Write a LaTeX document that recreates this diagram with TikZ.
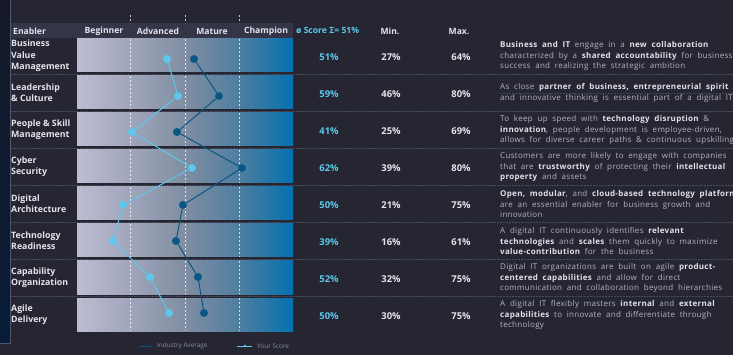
\documentclass[tikz,border=0pt]{standalone}
\usepackage{fontspec}
\setmainfont{Open Sans}
\newfontfamily\descfont[LetterSpace=3.8,WordSpace=2]{Open Sans}
\definecolor{bg}{RGB}{37,38,50}
\definecolor{hdr}{RGB}{52,54,72}
\definecolor{stripA}{RGB}{22,26,40}
\definecolor{stripB}{RGB}{8,28,55}
\definecolor{stripline}{RGB}{80,86,112}
\definecolor{bandL}{RGB}{190,188,210}
\definecolor{bandM}{RGB}{128,142,162}
\definecolor{bandN}{RGB}{78,126,160}
\definecolor{bandR}{RGB}{4,112,176}
\definecolor{cyanpt}{RGB}{92,200,236}
\definecolor{darkpt}{RGB}{10,86,132}
\definecolor{lbl}{RGB}{228,228,236}
\definecolor{desc}{RGB}{180,180,192}
\definecolor{descb}{RGB}{226,226,234}
\definecolor{sep}{RGB}{74,77,96}
\definecolor{leg}{RGB}{140,140,156}
\pgfdeclarehorizontalshading{bandshade}{100bp}{color(0bp)=(bandL); color(25bp)=(bandL); color(50bp)=(bandM); color(62.5bp)=(bandN); color(75bp)=(bandR); color(100bp)=(bandR)}
\tikzset{
  hdrtext/.style={text=lbl, font=\bfseries\fontsize{8.6}{9}\selectfont, inner sep=0pt},
  rowlabel/.style={text=lbl, font=\bfseries\fontsize{8.8}{11.4}\selectfont, align=left, anchor=west, inner sep=0pt},
  scoreval/.style={text=cyanpt, font=\bfseries\fontsize{9.4}{10}\selectfont, inner sep=0pt},
  minmax/.style={text=lbl, font=\bfseries\fontsize{9.4}{10}\selectfont, inner sep=0pt},
  desctext/.style={text=desc, font=\descfont\fontsize{8}{10.3}\selectfont, align=left, anchor=west, inner sep=0pt},
  ysdot/.style={circle, fill=cyanpt, inner sep=0pt, minimum size=8pt},
  iadot/.style={circle, fill=darkpt, inner sep=0pt, minimum size=8pt},
  ysline/.style={draw=cyanpt, line width=1pt},
  ialine/.style={draw=darkpt, line width=1pt},
  sepline/.style={draw=sep, line width=0.8pt, dash pattern=on 1.5pt off 1.5pt},
  gridline/.style={draw=white, opacity=0.75, line width=0.5pt, dash pattern=on 2pt off 2pt},
  legtext/.style={text=leg, font=\fontsize{6.4}{7}\selectfont, anchor=west, inner sep=0pt}
}
\newcommand{\hb}[1]{{\bfseries\color{descb}#1}}
\begin{document}
\begin{tikzpicture}[x=1pt,y=-1pt]
\useasboundingbox (0,0) rectangle (733,355);
\fill[bg] (0,0) rectangle (733,355);
% left strip
\shade[top color=stripA, bottom color=stripB] (0,0) rectangle (10,343);
\draw[stripline, line width=1pt] (10,0) -- (10,343) -- (0,343);
% header
\fill[hdr] (11,23) rectangle (293,38);
\foreach \x in {130,185,239} {\draw[gridline] (\x,15) -- (\x,23);}
\node[hdrtext, anchor=west] (hEn) at (13,31) {Enabler};
\node[hdrtext] (hBe) at (104,31) {Beginner};
\node[hdrtext] (hAd) at (158,31) {Advanced};
\node[hdrtext] (hMa) at (212,31) {Mature};
\node[hdrtext] (hCh) at (266,31) {Champion};
\node[hdrtext, text=cyanpt, anchor=west] (hSc) at (296,31) {ø Score Σ= 51\%};
\node[hdrtext] (hMin) at (390,31) {Min.};
\node[hdrtext] (hMax) at (459,31) {Max.};
% bands
\foreach \i in {0,...,7} {
  \pgfmathsetmacro{\t}{39+37*\i}
  \shade[shading=bandshade] (77,\t) rectangle (293,\t+33);
  \foreach \x in {130,185,239} {\draw[gridline] (\x,\t) -- (\x,\t+33);}
}
% separators
\foreach \i in {0,...,6} {
  \pgfmathsetmacro{\s}{74+37*\i}
  \draw[sepline] (11,\s) -- (733,\s);
}
\draw[sepline, opacity=0.8] (500,93) -- (733,93);
% row labels
\node[rowlabel] (l1) at (11,56) {Business\\Value\\Management};
\node[rowlabel] (l2) at (11,93) {Leadership\\\&~Culture};
\node[rowlabel] (l3) at (11,130) {People \& Skill\\Management};
\node[rowlabel] (l4) at (11,167) {Cyber\\Security};
\node[rowlabel] (l5) at (11,204) {Digital\\Architecture};
\node[rowlabel] (l6) at (11,241) {Technology\\Readiness};
\node[rowlabel] (l7) at (11,278) {Capability\\Organization};
\node[rowlabel] (l8) at (11,315) {Agile\\Delivery};
% values
\foreach \i/\sc/\mn/\mx in {0/51/27/64,1/59/46/80,2/41/25/69,3/62/39/80,4/50/21/75,5/39/16/61,6/52/32/75,7/50/30/75} {
  \pgfmathsetmacro{\c}{57+37*\i}
  \node[scoreval] (sc\i) at (329,\c) {\sc\%};
  \node[minmax] (mn\i) at (391,\c) {\mn\%};
  \node[minmax] (mx\i) at (461,\c) {\mx\%};
}
% descriptions
\node[desctext] (d1) at (500,56) {\hb{Business and IT} engage in a \hb{new collaboration}\\characterized by a \hb{shared accountability} for business\\success and realizing the strategic ambition};
\node[desctext] (d2) at (500,93) {As close \hb{partner of business, entrepreneurial spirit}\\and innovative thinking is essential part of a digital IT};
\node[desctext] (d3) at (500,130) {To keep up speed with \hb{technology disruption} \&\\\hb{innovation}, people development is employee-driven,\\allows for diverse career paths \& continuous upskilling};
\node[desctext] (d4) at (500,167) {Customers are more likely to engage with companies\\that are \hb{trustworthy} of protecting their \hb{intellectual}\\\hb{property} and assets};
\node[desctext] (d5) at (500,204) {\hb{Open, modular}, and \hb{cloud-based technology platform}\\are an essential enabler for business growth and\\innovation};
\node[desctext] (d6) at (500,241) {A digital IT continuously identifies \hb{relevant}\\\hb{technologies} and \hb{scales} them quickly to maximize\\\hb{value-contribution} for the business};
\node[desctext] (d7) at (500,278) {Digital IT organizations are built on agile \hb{product-}\\\hb{centered capabilities} and allow for direct\\communication and collaboration beyond hierarchies};
\node[desctext] (d8) at (500,315) {A digital IT flexibly masters \hb{internal} and \hb{external}\\\hb{capabilities} to innovate and differentiate through\\technology};
% dots
\node[iadot] (a1) at (194,59) {};
\node[iadot] (a2) at (219,96) {};
\node[iadot] (a3) at (177,132) {};
\node[iadot] (a4) at (242,168) {};
\node[iadot] (a5) at (183,205) {};
\node[iadot] (a6) at (176,241) {};
\node[iadot] (a7) at (198,277) {};
\node[iadot] (a8) at (204,313) {};
\node[ysdot] (y1) at (167,59) {};
\node[ysdot] (y2) at (178,96) {};
\node[ysdot] (y3) at (132,132) {};
\node[ysdot] (y4) at (192,168) {};
\node[ysdot] (y5) at (123,205) {};
\node[ysdot] (y6) at (113,241) {};
\node[ysdot] (y7) at (150,277) {};
\node[ysdot] (y8) at (169,313) {};
\draw[ialine] (a1) -- (a2) -- (a3) -- (a4) -- (a5) -- (a6) -- (a7) -- (a8);
\draw[ysline] (y1) -- (y2) -- (y3) -- (y4) -- (y5) -- (y6) -- (y7) -- (y8);
% legend
\coordinate (ia1) at (139,346);
\coordinate (ia2) at (151,346);
\coordinate (ys1) at (237,346);
\coordinate (ys2) at (252,346);
\draw[ialine] (ia1) -- (ia2);
\draw[ysline] (ys1) -- (ys2);
\node[circle, fill=cyanpt, inner sep=0pt, minimum size=2.6pt] (ysm) at (245,346) {};
\node[legtext] (lgia) at (157,346) {Industry Average};
\node[legtext] (lgys) at (257,346) {Your Score};
\end{tikzpicture}
\end{document}
